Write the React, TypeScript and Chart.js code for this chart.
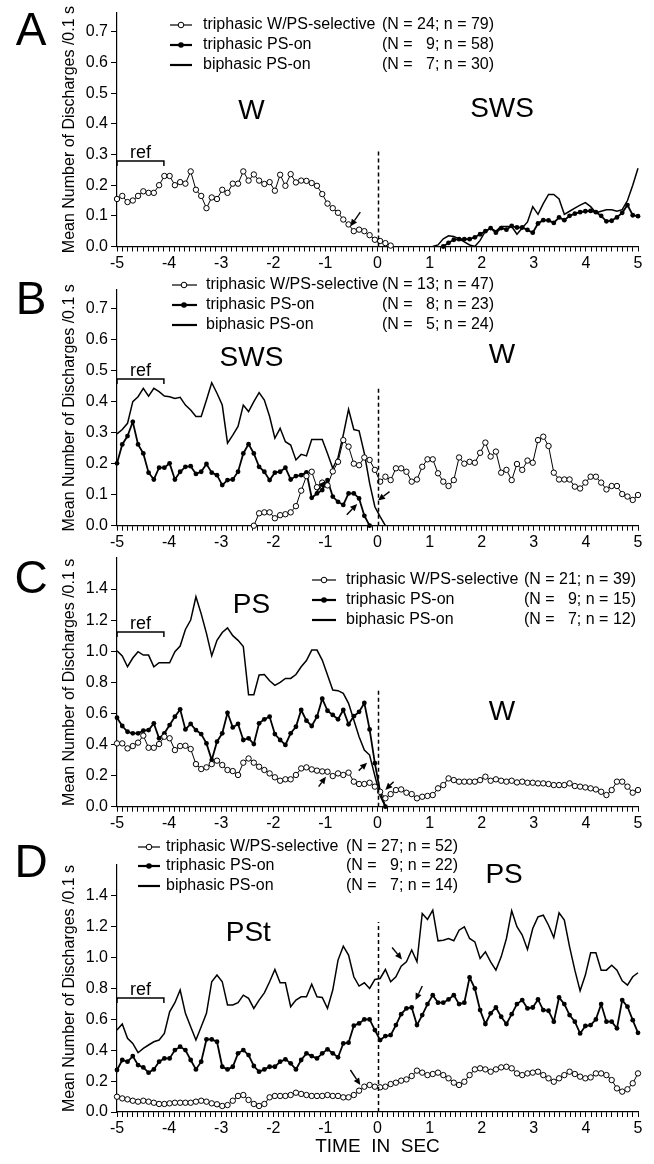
import React, { useEffect, useRef } from 'react';
import { Chart, registerables } from 'chart.js';

Chart.register(...registerables);

const FONT = '"Liberation Sans", Arial, Helvetica, sans-serif';
const NPTS = 100;
// time of each 0.1-s bin, spread from -5 to 5 s
const TIME = Array.from({ length: NPTS }, (_, i) => -5 + (i * 10) / (NPTS - 1));
const X_TICKS = Array.from({ length: 101 }, (_, i) => Math.round((-5 + i * 0.1) * 10) / 10);
const Y_TICKS_LOW = [0, 0.1, 0.2, 0.3, 0.4, 0.5, 0.6, 0.7];
const Y_TICKS_HIGH = [0, 0.2, 0.4, 0.6, 0.8, 1.0, 1.2, 1.4];

const LEGEND_LABELS = ['triphasic W/PS-selective', 'triphasic PS-on', 'biphasic PS-on'];
const Y_TITLE = 'Mean Number of Discharges /0.1 s';
const X_TITLE = 'TIME  IN  SEC';

// ---------- Panel A (W -> SWS) ----------
const A_WPS_START = 0;
const A_WPS = [0.155, 0.165, 0.145, 0.15, 0.165, 0.18, 0.175, 0.175, 0.2, 0.23, 0.23, 0.2, 0.21, 0.205, 0.245, 0.185, 0.165, 0.125, 0.16, 0.155, 0.185, 0.175, 0.205, 0.205, 0.245, 0.215, 0.235, 0.215, 0.204, 0.21, 0.182, 0.234, 0.198, 0.236, 0.209, 0.215, 0.214, 0.207, 0.198, 0.171, 0.14, 0.125, 0.11, 0.088, 0.072, 0.05, 0.055, 0.05, 0.037, 0.022, 0.018, 0.011, 0.003];
const A_PSON_START = 62;
const A_PSON = [0, 0.012, 0.022, 0.024, 0.024, 0.024, 0.03, 0.04, 0.05, 0.06, 0.045, 0.06, 0.055, 0.067, 0.062, 0.062, 0.054, 0.045, 0.075, 0.086, 0.085, 0.077, 0.095, 0.086, 0.1, 0.107, 0.112, 0.115, 0.116, 0.112, 0.1, 0.082, 0.084, 0.095, 0.11, 0.135, 0.102, 0.099];
const A_BI_START = 60;
const A_BI = [0, 0.005, 0.025, 0.035, 0.033, 0.025, 0.015, 0.005, 0, 0.02, 0.05, 0.06, 0.05, 0.065, 0.065, 0.065, 0.04, 0.06, 0.08, 0.13, 0.105, 0.14, 0.17, 0.17, 0.155, 0.105, 0.115, 0.125, 0.135, 0.143, 0.13, 0.11, 0.115, 0.12, 0.12, 0.115, 0.12, 0.15, 0.2, 0.255];
const A_N = ['(N = 24; n = 79)', '(N =   9; n = 58)', '(N =   7; n = 30)'];

// ---------- Panel B (SWS -> W) ----------
const B_WPS_START = 26;
const B_WPS = [0.0, 0.04, 0.043, 0.043, 0.024, 0.034, 0.037, 0.043, 0.063, 0.113, 0.16, 0.174, 0.124, 0.139, 0.13, 0.175, 0.206, 0.276, 0.255, 0.2, 0.195, 0.22, 0.212, 0.18, 0.142, 0.158, 0.147, 0.185, 0.185, 0.174, 0.142, 0.149, 0.19, 0.214, 0.214, 0.169, 0.142, 0.128, 0.147, 0.22, 0.2, 0.206, 0.203, 0.235, 0.268, 0.223, 0.239, 0.171, 0.18, 0.147, 0.199, 0.18, 0.21, 0.203, 0.276, 0.287, 0.257, 0.171, 0.149, 0.149, 0.149, 0.126, 0.12, 0.139, 0.158, 0.158, 0.139, 0.117, 0.128, 0.128, 0.102, 0.094, 0.083, 0.099];
const B_PSON_START = 0;
const B_PSON = [0.201, 0.262, 0.289, 0.335, 0.262, 0.233, 0.171, 0.149, 0.187, 0.187, 0.201, 0.149, 0.174, 0.19, 0.192, 0.167, 0.174, 0.199, 0.171, 0.163, 0.131, 0.147, 0.149, 0.174, 0.233, 0.263, 0.233, 0.19, 0.174, 0.147, 0.171, 0.174, 0.187, 0.149, 0.16, 0.163, 0.172, 0.09, 0.104, 0.115, 0.147, 0.094, 0.077, 0.067, 0.104, 0.104, 0.088, 0.032, 0.0];
const B_BI_START = 0;
const B_BI = [0.296, 0.31, 0.33, 0.4, 0.416, 0.443, 0.418, 0.443, 0.432, 0.418, 0.416, 0.41, 0.414, 0.389, 0.373, 0.352, 0.352, 0.405, 0.461, 0.427, 0.389, 0.266, 0.292, 0.32, 0.389, 0.368, 0.4, 0.429, 0.405, 0.352, 0.282, 0.314, 0.271, 0.26, 0.212, 0.23, 0.225, 0.278, 0.278, 0.278, 0.233, 0.185, 0.22, 0.293, 0.375, 0.31, 0.306, 0.233, 0.137, 0.061, 0.029, 0.0];
const B_N = ['(N = 13; n = 47)', '(N =   8; n = 23)', '(N =   5; n = 24)'];

// ---------- Panel C (PS -> W) ----------
const C_WPS_START = 0;
const C_WPS = [0.407, 0.407, 0.375, 0.39, 0.412, 0.457, 0.379, 0.379, 0.403, 0.45, 0.44, 0.364, 0.39, 0.392, 0.371, 0.274, 0.242, 0.253, 0.274, 0.296, 0.268, 0.236, 0.229, 0.204, 0.283, 0.31, 0.283, 0.257, 0.236, 0.214, 0.189, 0.167, 0.176, 0.176, 0.204, 0.246, 0.253, 0.24, 0.232, 0.227, 0.225, 0.197, 0.214, 0.204, 0.219, 0.161, 0.146, 0.146, 0.154, 0.129, 0.096, 0.054, 0.081, 0.107, 0.111, 0.09, 0.081, 0.054, 0.064, 0.069, 0.075, 0.118, 0.139, 0.182, 0.171, 0.161, 0.161, 0.161, 0.161, 0.171, 0.193, 0.167, 0.176, 0.167, 0.161, 0.167, 0.156, 0.161, 0.154, 0.154, 0.15, 0.15, 0.146, 0.139, 0.139, 0.139, 0.15, 0.133, 0.129, 0.124, 0.118, 0.111, 0.096, 0.075, 0.107, 0.161, 0.161, 0.129, 0.09, 0.107];
const C_PSON_START = 0;
const C_PSON = [0.572, 0.519, 0.482, 0.472, 0.472, 0.489, 0.493, 0.536, 0.44, 0.472, 0.525, 0.579, 0.626, 0.497, 0.532, 0.493, 0.467, 0.407, 0.3, 0.418, 0.472, 0.604, 0.51, 0.532, 0.429, 0.44, 0.403, 0.536, 0.562, 0.579, 0.467, 0.429, 0.397, 0.472, 0.514, 0.622, 0.553, 0.519, 0.579, 0.695, 0.617, 0.59, 0.562, 0.622, 0.53, 0.582, 0.61, 0.667, 0.497, 0.28, 0.096, 0.0];
const C_BI_START = 0;
const C_BI = [1.003, 0.969, 0.9, 0.956, 0.997, 0.975, 0.975, 0.9, 0.926, 0.926, 0.926, 0.997, 1.033, 1.14, 1.2, 1.35, 1.24, 1.115, 0.97, 1.07, 1.12, 1.15, 1.1, 1.07, 1.03, 0.72, 0.72, 0.847, 0.85, 0.81, 0.78, 0.8, 0.825, 0.825, 0.85, 0.9, 0.94, 1.007, 1.007, 0.943, 0.847, 0.75, 0.746, 0.729, 0.665, 0.557, 0.45, 0.364, 0.332, 0.198, 0.07, 0.0];
const C_N = ['(N = 21; n = 39)', '(N =   9; n = 15)', '(N =   7; n = 12)'];

// ---------- Panel D (PSt -> PS) ----------
const D_WPS_START = 0;
const D_WPS = [0.099, 0.088, 0.082, 0.073, 0.067, 0.073, 0.067, 0.06, 0.052, 0.052, 0.056, 0.06, 0.06, 0.06, 0.06, 0.067, 0.073, 0.067, 0.056, 0.05, 0.039, 0.045, 0.073, 0.104, 0.11, 0.078, 0.052, 0.039, 0.052, 0.095, 0.104, 0.104, 0.104, 0.11, 0.125, 0.117, 0.11, 0.104, 0.104, 0.104, 0.11, 0.104, 0.104, 0.095, 0.095, 0.11, 0.138, 0.164, 0.175, 0.164, 0.16, 0.164, 0.181, 0.19, 0.203, 0.211, 0.233, 0.268, 0.255, 0.239, 0.246, 0.255, 0.239, 0.218, 0.19, 0.175, 0.196, 0.239, 0.276, 0.283, 0.276, 0.261, 0.276, 0.289, 0.293, 0.283, 0.25, 0.239, 0.25, 0.255, 0.261, 0.239, 0.218, 0.196, 0.218, 0.239, 0.261, 0.246, 0.229, 0.218, 0.224, 0.25, 0.25, 0.239, 0.207, 0.153, 0.132, 0.147, 0.186, 0.25];
const D_PSON_START = 0;
const D_PSON = [0.272, 0.337, 0.326, 0.362, 0.304, 0.289, 0.255, 0.276, 0.326, 0.347, 0.347, 0.401, 0.423, 0.401, 0.337, 0.276, 0.326, 0.47, 0.47, 0.455, 0.293, 0.276, 0.293, 0.38, 0.401, 0.369, 0.298, 0.261, 0.276, 0.293, 0.293, 0.326, 0.341, 0.315, 0.276, 0.337, 0.38, 0.362, 0.347, 0.38, 0.406, 0.38, 0.354, 0.444, 0.449, 0.559, 0.574, 0.6, 0.6, 0.531, 0.466, 0.492, 0.498, 0.563, 0.634, 0.671, 0.677, 0.563, 0.628, 0.699, 0.757, 0.708, 0.708, 0.729, 0.757, 0.699, 0.708, 0.872, 0.8, 0.66, 0.57, 0.639, 0.677, 0.617, 0.57, 0.634, 0.699, 0.725, 0.671, 0.677, 0.729, 0.66, 0.656, 0.585, 0.742, 0.699, 0.628, 0.585, 0.509, 0.557, 0.563, 0.6, 0.699, 0.585, 0.585, 0.542, 0.725, 0.682, 0.595, 0.513];
const D_BI_START = 0;
const D_BI = [0.531, 0.57, 0.477, 0.444, 0.384, 0.412, 0.434, 0.455, 0.466, 0.509, 0.649, 0.708, 0.79, 0.639, 0.552, 0.466, 0.552, 0.639, 0.844, 0.887, 0.844, 0.693, 0.693, 0.708, 0.757, 0.736, 0.671, 0.725, 0.772, 0.844, 0.923, 0.837, 0.837, 0.682, 0.725, 0.746, 0.746, 0.828, 0.746, 0.742, 0.671, 0.79, 0.984, 1.074, 1.016, 0.876, 0.816, 0.837, 0.8, 0.859, 0.865, 0.923, 0.844, 0.876, 0.945, 0.973, 1.049, 0.973, 1.286, 1.247, 1.307, 1.109, 1.113, 1.124, 1.109, 1.178, 1.2, 1.124, 1.102, 0.995, 1.038, 0.973, 0.919, 1.005, 1.124, 1.303, 1.2, 1.146, 1.053, 1.189, 1.264, 1.275, 1.21, 1.13, 1.29, 1.243, 1.07, 0.919, 0.785, 0.887, 1.031, 1.031, 0.919, 0.919, 0.951, 0.919, 0.85, 0.822, 0.876, 0.902];
const D_N = ['(N = 27; n = 52)', '(N =   9; n = 22)', '(N =   7; n = 14)'];

function pad(start: number, values: number[]): (number | null)[] {
  const out: (number | null)[] = new Array(NPTS).fill(null);
  values.forEach((v, k) => {
    out[start + k] = v;
  });
  return out;
}

type Arrow = [number, number, number, number]; // tail t, tail v, tip t, tip v

type Panel = {
  letter: string;
  top: number;
  height: number;
  areaTop: number;
  areaBottom: number;
  yMax: number;
  yTicks: number[];
  wps: (number | null)[];
  pson: (number | null)[];
  bi: (number | null)[];
  legendRows: number[];
  symX: [number, number, number];
  textX: number;
  nTexts: string[];
  nX: number;
  nAlign: CanvasTextAlign;
  states: { text: string; t: number; v: number }[];
  refV: number;
  dashTop: number;
  arrows: Arrow[];
  letterY: number;
  xTitle?: boolean;
};

const PANELS: Panel[] = [
  {
    letter: 'A', top: 0, height: 285, areaTop: 10, areaBottom: 246.5, yMax: 0.763, yTicks: Y_TICKS_LOW,
    wps: pad(A_WPS_START, A_WPS), pson: pad(A_PSON_START, A_PSON), bi: pad(A_BI_START, A_BI),
    legendRows: [25, 45, 65], symX: [170, 192, 181], textX: 203, nTexts: A_N, nX: 382, nAlign: 'left',
    states: [{ text: 'W', t: -2.42, v: 0.44 }, { text: 'SWS', t: 2.39, v: 0.447 }],
    refV: 0.279, dashTop: 0.31, arrows: [[-0.33, 0.112, -0.52, 0.066]], letterY: 30,
  },
  {
    letter: 'B', top: 270, height: 300, areaTop: 290, areaBottom: 525.7, yMax: 0.76, yTicks: Y_TICKS_LOW,
    wps: pad(B_WPS_START, B_WPS), pson: pad(B_PSON_START, B_PSON), bi: pad(B_BI_START, B_BI),
    legendRows: [285, 305, 325], symX: [172, 197, 184], textX: 206, nTexts: B_N, nX: 382, nAlign: 'left',
    states: [{ text: 'SWS', t: -2.42, v: 0.541 }, { text: 'W', t: 2.39, v: 0.551 }],
    refV: 0.473, dashTop: 0.45,
    arrows: [[0.23, 0.11, 0.01, 0.081], [-0.59, 0.035, -0.39, 0.07], [-1.17, 0.109, -1.0, 0.144]],
    letterY: 299,
  },
  {
    letter: 'C', top: 545, height: 320, areaTop: 557.9, areaBottom: 806.7, yMax: 1.6, yTicks: Y_TICKS_HIGH,
    wps: pad(C_WPS_START, C_WPS), pson: pad(C_PSON_START, C_PSON), bi: pad(C_BI_START, C_BI),
    legendRows: [580, 600, 620], symX: [312, 336, 324], textX: 346, nTexts: C_N, nX: 636, nAlign: 'right',
    states: [{ text: 'PS', t: -2.42, v: 1.297 }, { text: 'W', t: 2.39, v: 0.609 }],
    refV: 1.123, dashTop: 0.76,
    arrows: [[-1.13, 0.129, -0.99, 0.193], [-0.36, 0.232, -0.2, 0.283], [0.31, 0.161, 0.15, 0.107]],
    letterY: 578,
  },
  {
    letter: 'D', top: 830, height: 334, areaTop: 865, areaBottom: 1112, yMax: 1.6, yTicks: Y_TICKS_HIGH,
    wps: pad(D_WPS_START, D_WPS), pson: pad(D_PSON_START, D_PSON), bi: pad(D_BI_START, D_BI),
    legendRows: [847, 866, 886], symX: [138, 160, 149], textX: 166, nTexts: D_N, nX: 346, nAlign: 'left',
    states: [{ text: 'PSt', t: -2.48, v: 1.159 }, { text: 'PS', t: 2.43, v: 1.534 }],
    refV: 0.738, dashTop: 1.23,
    arrows: [[-0.52, 0.272, -0.33, 0.175], [0.28, 1.066, 0.47, 0.988], [0.86, 0.816, 0.73, 0.725]],
    letterY: 862, xTitle: true,
  },
];

const REF_START = -5;
const REF_END = -4.1;

function drawArrow(ctx: CanvasRenderingContext2D, x1: number, y1: number, x2: number, y2: number) {
  const ang = Math.atan2(y2 - y1, x2 - x1);
  const hl = 7;
  const hw = 3.2;
  const bx = x2 - hl * Math.cos(ang);
  const by = y2 - hl * Math.sin(ang);
  ctx.beginPath();
  ctx.moveTo(x1, y1);
  ctx.lineTo(bx, by);
  ctx.lineWidth = 1.4;
  ctx.stroke();
  ctx.beginPath();
  ctx.moveTo(x2, y2);
  ctx.lineTo(bx + hw * Math.sin(ang), by - hw * Math.cos(ang));
  ctx.lineTo(bx - hw * Math.sin(ang), by + hw * Math.cos(ang));
  ctx.closePath();
  ctx.fill();
}

function makePlugin(p: Panel) {
  return {
    id: 'annot' + p.letter,
    afterDatasetsDraw(chart: any) {
      const ctx: CanvasRenderingContext2D = chart.ctx;
      const xs = chart.scales.x;
      const ys = chart.scales.y;
      const off = p.top;
      ctx.save();
      ctx.strokeStyle = '#000';
      ctx.fillStyle = '#000';

      // dashed line at t = 0
      const x0 = Math.round(xs.getPixelForValue(0)) + 0.5;
      ctx.beginPath();
      ctx.setLineDash([4, 3]);
      ctx.lineWidth = 1.5;
      ctx.moveTo(x0, ys.getPixelForValue(0));
      ctx.lineTo(x0, ys.getPixelForValue(p.dashTop));
      ctx.stroke();
      ctx.setLineDash([]);

      // ref bracket
      const rx1 = xs.getPixelForValue(REF_START);
      const rx2 = xs.getPixelForValue(REF_END);
      const ry = ys.getPixelForValue(p.refV);
      ctx.beginPath();
      ctx.lineWidth = 1.5;
      ctx.moveTo(rx1, ry + 5);
      ctx.lineTo(rx1, ry);
      ctx.lineTo(rx2, ry);
      ctx.lineTo(rx2, ry + 5);
      ctx.stroke();
      ctx.font = `18px ${FONT}`;
      ctx.textAlign = 'center';
      ctx.textBaseline = 'alphabetic';
      ctx.fillText('ref', (rx1 + rx2) / 2, ry - 3);

      // state labels
      ctx.font = `28px ${FONT}`;
      ctx.textBaseline = 'middle';
      p.states.forEach((s) => {
        ctx.fillText(s.text, xs.getPixelForValue(s.t), ys.getPixelForValue(s.v));
      });

      // arrows
      p.arrows.forEach((a) => {
        drawArrow(ctx, xs.getPixelForValue(a[0]), ys.getPixelForValue(a[1]), xs.getPixelForValue(a[2]), ys.getPixelForValue(a[3]));
      });

      // legend
      ctx.font = `16px ${FONT}`;
      ctx.textBaseline = 'middle';
      p.legendRows.forEach((ry0, k) => {
        const y = ry0 - off;
        ctx.beginPath();
        ctx.lineWidth = k === 0 ? 1.2 : 2.2;
        ctx.moveTo(p.symX[0], y);
        ctx.lineTo(p.symX[1], y);
        ctx.stroke();
        if (k === 0) {
          ctx.beginPath();
          ctx.arc(p.symX[2], y, 2.8, 0, Math.PI * 2);
          ctx.fillStyle = '#fff';
          ctx.fill();
          ctx.lineWidth = 1;
          ctx.stroke();
          ctx.fillStyle = '#000';
        } else if (k === 1) {
          ctx.beginPath();
          ctx.arc(p.symX[2], y, 2.8, 0, Math.PI * 2);
          ctx.fill();
        }
        ctx.textAlign = 'left';
        ctx.fillText(LEGEND_LABELS[k], p.textX, y);
        ctx.textAlign = p.nAlign;
        ctx.fillText(p.nTexts[k], p.nX, y);
      });

      // panel letter
      ctx.font = `46px ${FONT}`;
      ctx.textAlign = 'center';
      ctx.textBaseline = 'middle';
      ctx.fillText(p.letter, 31, p.letterY - off + 2);

      // y axis title
      ctx.save();
      ctx.font = `16px ${FONT}`;
      ctx.translate(70, (chart.chartArea.top + chart.chartArea.bottom) / 2);
      ctx.rotate(-Math.PI / 2);
      ctx.textAlign = 'center';
      ctx.textBaseline = 'middle';
      ctx.fillText(Y_TITLE, 0, 0);
      ctx.restore();

      if (p.xTitle) {
        ctx.font = `19px ${FONT}`;
        ctx.textAlign = 'center';
        ctx.textBaseline = 'middle';
        ctx.fillText(X_TITLE, xs.getPixelForValue(0), 1147 - off);
      }
      ctx.restore();
    },
  };
}

function PanelChart({ p }: { p: Panel }) {
  const ref = useRef<HTMLCanvasElement | null>(null);
  useEffect(() => {
    if (!ref.current) return;
    const toXY = (arr: (number | null)[]) => arr.map((v, i) => ({ x: TIME[i], y: v }));
    const areaTop = p.areaTop - p.top;
    const areaBottom = p.areaBottom - p.top;
    const chart = new Chart(ref.current, {
      type: 'line',
      data: {
        datasets: [
          {
            label: LEGEND_LABELS[0],
            data: toXY(p.wps) as any,
            borderColor: '#000',
            borderWidth: 1,
            pointRadius: 2.7,
            pointBackgroundColor: '#fff',
            pointBorderColor: '#000',
            pointBorderWidth: 1,
            spanGaps: false,
            clip: false as any,
            order: 0,
          },
          {
            label: LEGEND_LABELS[1],
            data: toXY(p.pson) as any,
            borderColor: '#000',
            borderWidth: 1.8,
            pointRadius: 2.4,
            pointBackgroundColor: '#000',
            pointBorderColor: '#000',
            pointBorderWidth: 0,
            spanGaps: false,
            clip: false as any,
            order: 1,
          },
          {
            label: LEGEND_LABELS[2],
            data: toXY(p.bi) as any,
            borderColor: '#000',
            borderWidth: 1.5,
            pointRadius: 0,
            spanGaps: false,
            clip: false as any,
            order: 2,
          },
        ],
      },
      options: {
        animation: false,
        responsive: false,
        devicePixelRatio: 1,
        events: [],
        layout: { padding: { top: areaTop, right: 16, bottom: 0, left: 0 } },
        plugins: { legend: { display: false }, tooltip: { enabled: false } },
        scales: {
          x: {
            type: 'linear',
            min: -5,
            max: 5,
            afterBuildTicks: (s: any) => {
              s.ticks = X_TICKS.map((v) => ({ value: v }));
            },
            afterFit: (s: any) => {
              s.height = p.height - areaBottom;
            },
            ticks: {
              autoSkip: false,
              maxRotation: 0,
              padding: 2,
              color: '#000',
              font: { family: FONT, size: 16 },
              callback: (v: any) => {
                const n = Number(v);
                return Math.abs(n - Math.round(n)) < 1e-6 ? String(Math.round(n) === 0 ? 0 : Math.round(n)) : '';
              },
            },
            grid: { drawOnChartArea: false, drawTicks: true, tickLength: 5, color: '#000', lineWidth: 1 },
            border: { display: true, color: '#000', width: 1.2 },
          },
          y: {
            type: 'linear',
            min: 0,
            max: p.yMax,
            afterBuildTicks: (s: any) => {
              s.ticks = p.yTicks.map((v) => ({ value: v }));
            },
            afterFit: (s: any) => {
              s.width = 117;
            },
            ticks: {
              padding: 3,
              color: '#000',
              font: { family: FONT, size: 16 },
              callback: (v: any) => Number(v).toFixed(1),
            },
            grid: { drawOnChartArea: false, drawTicks: true, tickLength: 6, color: '#000', lineWidth: 1 },
            border: { display: true, color: '#000', width: 1.2 },
          },
        },
      } as any,
      plugins: [makePlugin(p)],
    });
    return () => chart.destroy();
  }, [p]);
  return (
    <canvas
      ref={ref}
      width={654}
      height={p.height}
      style={{ position: 'absolute', left: 0, top: p.top, width: 654, height: p.height }}
    />
  );
}

export default function App() {
  return (
    <div style={{ position: 'absolute', left: 0, top: 0, width: 654, height: 1164, background: '#fff', overflow: 'hidden' }}>
      {PANELS.map((p) => (
        <PanelChart key={p.letter} p={p} />
      ))}
    </div>
  );
}
